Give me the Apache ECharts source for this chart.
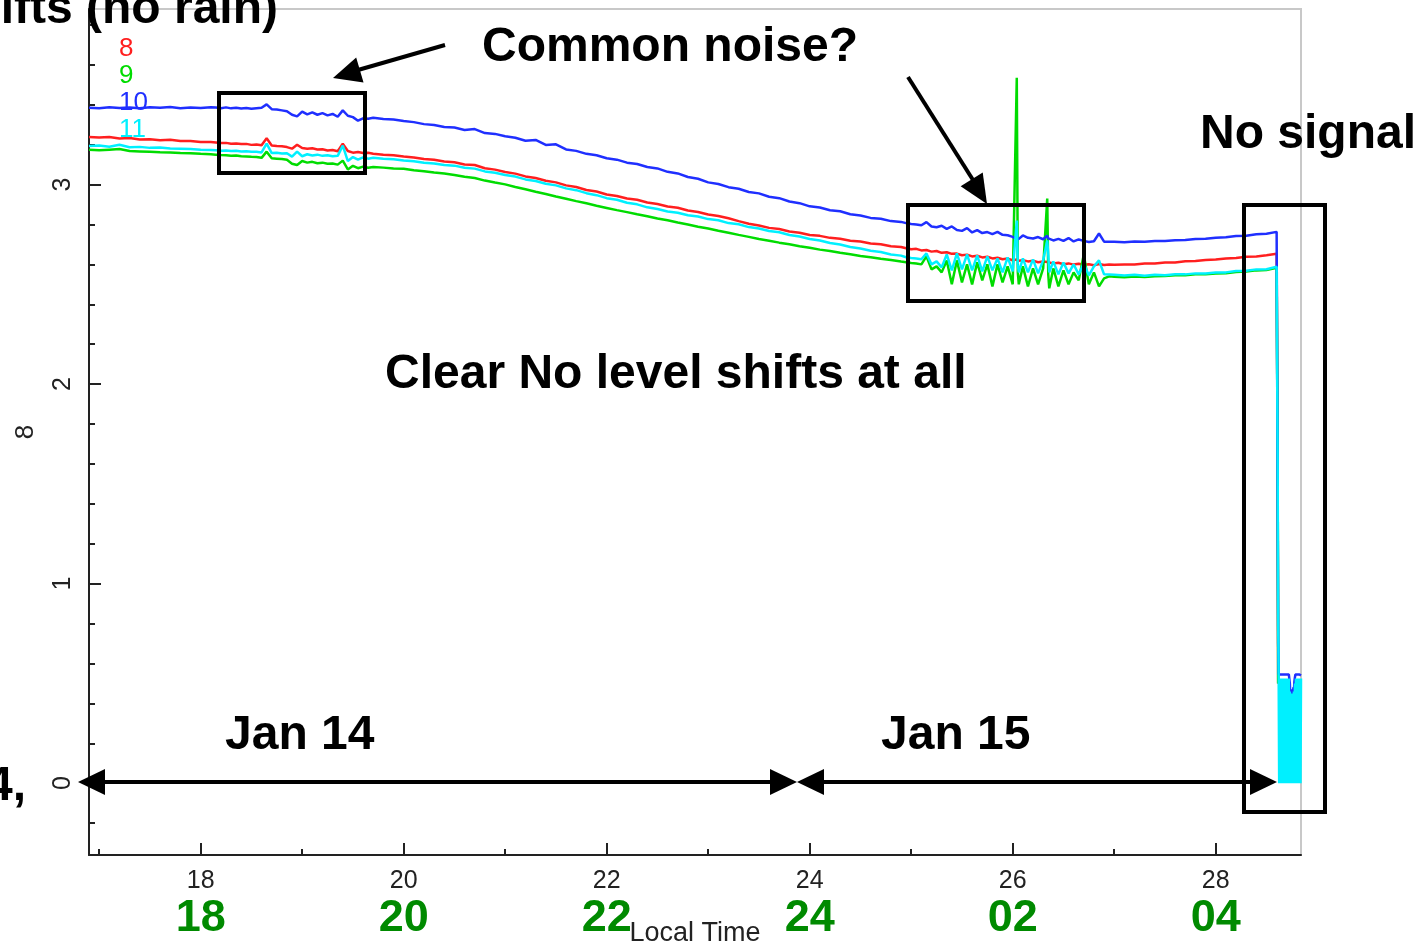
<!DOCTYPE html>
<html>
<head>
<meta charset="utf-8">
<script src="https://cdn.jsdelivr.net/npm/echarts@6/dist/echarts.min.js"></script>
<style>
html,body{margin:0;padding:0;background:#fff;}
#chart{width:1416px;height:945px;}
</style>
</head>
<body>
<div id="chart"></div>
<script>
// ---------------- data ----------------
const channelNames = ['8', '9', '10', '11'];
const xTickLabels = [18, 20, 22, 24, 26, 28];
const xMinorTicks = [17, 19, 21, 23, 25, 27];
const localTimeLabels = ['18', '20', '22', '24', '02', '04'];
const yTickLabels = [0, 1, 2, 3];
const yMinorTicks = [-0.2, 0.2, 0.4, 0.6, 0.8, 1.2, 1.4, 1.6, 1.8, 2.2, 2.4, 2.6, 2.8, 3.2, 3.4, 3.6, 3.8];

const hours = [
  16.9,17.0,17.1,17.2,17.3,17.4,17.5,17.6,17.7,17.8,17.9,18.0,18.1,
  18.15,18.2,18.25,18.3,18.35,18.4,18.45,18.5,18.55,18.6,
  18.65,18.7,18.75,18.8,18.85,18.9,18.95,19.0,19.05,19.1,
  19.15,19.2,19.25,19.3,19.35,19.4,19.45,19.5,19.55,19.6,
  19.65,19.7,
  19.8,19.9,20.0,20.1,20.2,20.3,20.4,20.5,20.6,20.7,
  20.8,20.9,21.0,21.1,21.2,21.3,21.4,21.5,21.6,21.7,
  21.8,21.9,22.0,22.1,22.2,22.3,22.4,22.5,22.6,22.7,
  22.8,22.9,23.0,23.1,23.2,23.3,23.4,23.5,23.6,23.7,
  23.8,23.9,24.0,24.1,24.2,24.3,24.4,24.5,24.6,24.7,
  24.8,24.9,
  24.95,25.0,25.05,25.1,25.15,25.2,25.25,25.3,25.35,25.4,
  25.45,25.5,25.55,25.6,25.65,25.7,25.75,25.8,25.85,25.9,
  25.95,26.0,26.04,26.05,26.06,26.1,26.15,26.2,26.25,26.3,
  26.34,26.35,26.36,26.4,26.45,26.5,26.55,26.6,26.65,26.7,
  26.75,26.8,26.85,26.9,26.95,
  27.0,27.1,27.2,27.3,27.4,27.5,27.6,27.7,27.8,27.9,
  28.0,28.1,28.2,28.3,28.4,28.5,28.6,
  28.61,28.615,
  28.62,28.625,28.63,28.635,28.64,28.645,28.65,28.655,28.66,28.665,
  28.67,28.675,28.68,28.685,28.69,28.695,28.7,28.705,28.71,28.715,
  28.72,28.725,28.73,28.735,28.74,28.745,28.75,28.755,28.76,28.765,
  28.77,28.775,28.78,28.785,28.79,28.795,28.8,28.805,28.81,28.815,
  28.82,28.825,28.83,28.835,28.84
];

const ch8 = [
  3.239,3.236,3.238,3.231,3.233,3.226,3.227,3.222,3.225,3.218,3.219,3.214,3.213,
  3.211,3.208,3.209,3.205,3.206,3.203,3.204,3.199,3.201,3.197,
  3.232,3.196,3.193,3.192,3.188,3.180,3.200,3.183,3.180,3.182,
  3.176,3.177,3.171,3.173,3.167,3.205,3.168,3.160,3.163,3.158,
  3.160,3.155,
  3.150,3.147,3.141,3.136,3.128,3.124,3.116,3.112,3.101,3.098,
  3.082,3.075,3.063,3.055,3.041,3.033,3.019,3.011,2.996,2.988,
  2.973,2.965,2.950,2.943,2.930,2.924,2.910,2.903,2.890,2.884,
  2.870,2.863,2.850,2.843,2.831,2.817,2.804,2.795,2.783,2.777,
  2.765,2.759,2.747,2.743,2.733,2.729,2.719,2.715,2.705,2.701,
  2.691,2.687,
  2.681,2.676,2.678,2.670,2.672,2.664,2.667,2.658,2.661,2.653,
  2.654,2.646,2.649,2.640,2.643,2.635,2.638,2.630,2.633,2.626,
  2.629,2.621,2.625,2.621,2.618,2.621,2.615,2.618,2.611,2.614,
  2.612,2.608,2.609,2.605,2.608,2.601,2.605,2.599,2.603,2.598,
  2.601,2.596,2.602,2.597,2.599,
  2.598,2.600,2.600,2.604,2.604,2.609,2.610,2.616,2.617,2.622,
  2.624,2.630,2.632,2.638,2.640,2.646,2.653,
  1.60,0.50
];

const ch9 = [
  3.174,3.172,3.175,3.178,3.168,3.166,3.164,3.162,3.161,3.158,3.157,3.154,3.152,
  3.150,3.148,3.147,3.145,3.146,3.142,3.141,3.139,3.138,3.134,
  3.165,3.132,3.130,3.128,3.124,3.104,3.098,3.118,3.110,3.114,
  3.107,3.110,3.104,3.106,3.100,3.120,3.076,3.094,3.082,3.090,
  3.084,3.088,
  3.085,3.081,3.079,3.072,3.067,3.060,3.055,3.048,3.039,3.033,
  3.020,3.010,3.001,2.988,2.977,2.964,2.953,2.940,2.929,2.917,
  2.906,2.894,2.883,2.872,2.862,2.851,2.841,2.830,2.821,2.810,
  2.800,2.789,2.780,2.769,2.759,2.748,2.738,2.727,2.719,2.709,
  2.701,2.691,2.683,2.674,2.667,2.658,2.651,2.642,2.636,2.628,
  2.622,2.614,
  2.611,2.607,2.605,2.600,2.640,2.575,2.590,2.560,2.620,2.500,
  2.620,2.510,2.600,2.500,2.610,2.520,2.600,2.490,2.600,2.510,
  2.590,2.500,3.535,2.560,2.500,2.590,2.490,2.580,2.500,2.580,
  2.930,2.550,2.480,2.580,2.490,2.570,2.500,2.560,2.520,2.650,
  2.500,2.560,2.490,2.530,2.540,
  2.538,2.536,2.539,2.537,2.541,2.542,2.546,2.546,2.550,2.550,
  2.554,2.556,2.562,2.564,2.570,2.572,2.583,
  1.60,0.50
];

const ch10 = [
  3.385,3.383,3.388,3.384,3.386,3.382,3.387,3.385,3.389,3.383,3.386,3.384,3.388,
  3.386,3.383,3.387,3.382,3.385,3.381,3.384,3.380,3.383,3.385,
  3.402,3.378,3.376,3.372,3.368,3.350,3.342,3.366,3.352,3.362,
  3.350,3.358,3.347,3.354,3.340,3.372,3.345,3.338,3.320,3.332,
  3.330,3.335,
  3.329,3.326,3.319,3.313,3.303,3.299,3.289,3.286,3.274,3.278,
  3.258,3.254,3.242,3.235,3.220,3.224,3.199,3.202,3.176,3.169,
  3.154,3.147,3.132,3.125,3.110,3.103,3.088,3.081,3.064,3.056,
  3.038,3.029,3.011,3.003,2.987,2.979,2.963,2.956,2.939,2.932,
  2.915,2.907,2.891,2.885,2.871,2.866,2.851,2.845,2.833,2.829,
  2.817,2.813,
  2.807,2.803,2.800,2.796,2.812,2.790,2.786,2.794,2.778,2.790,
  2.772,2.768,2.782,2.760,2.772,2.757,2.762,2.752,2.763,2.748,
  2.746,2.738,2.725,2.735,2.728,2.745,2.733,2.730,2.737,2.726,
  2.744,2.730,2.722,2.720,2.728,2.718,2.732,2.715,2.725,2.718,
  2.712,2.716,2.755,2.714,2.713,
  2.713,2.711,2.715,2.714,2.717,2.717,2.721,2.722,2.727,2.728,
  2.734,2.736,2.742,2.744,2.751,2.754,2.763,
  1.40,0.70,
  0.545,0.538,0.545,0.540,0.545,0.538,0.545,0.540,0.545,0.538,
  0.545,0.540,0.545,0.538,0.545,0.540,0.545,0.538,0.545,0.540,
  0.545,0.538,0.50,0.44,0.47,0.42,0.40,0.45,0.43,0.48,
  0.46,0.51,0.53,0.545,0.540,0.545,0.538,0.545,0.540,0.545,
  0.538,0.545,0.540,0.545,0.540
];

const ch11 = [
  3.194,3.196,3.190,3.200,3.187,3.189,3.184,3.186,3.181,3.180,3.178,3.174,3.173,
  3.172,3.170,3.171,3.168,3.169,3.166,3.167,3.164,3.165,3.161,
  3.205,3.158,3.160,3.156,3.157,3.140,3.165,3.142,3.152,3.146,
  3.150,3.144,3.147,3.142,3.144,3.195,3.118,3.138,3.125,3.136,
  3.130,3.134,
  3.130,3.127,3.121,3.117,3.109,3.106,3.098,3.095,3.084,3.080,
  3.066,3.059,3.048,3.040,3.026,3.018,3.004,2.996,2.981,2.972,
  2.957,2.947,2.932,2.924,2.909,2.901,2.886,2.878,2.865,2.859,
  2.846,2.840,2.827,2.821,2.807,2.801,2.787,2.780,2.767,2.761,
  2.747,2.740,2.727,2.720,2.707,2.700,2.687,2.680,2.668,2.662,
  2.650,2.644,
  2.636,2.632,2.630,2.626,2.655,2.600,2.615,2.585,2.650,2.570,
  2.655,2.575,2.650,2.570,2.645,2.565,2.640,2.570,2.630,2.560,
  2.635,2.565,2.820,2.600,2.560,2.630,2.560,2.625,2.555,2.620,
  2.720,2.650,2.560,2.615,2.550,2.610,2.555,2.600,2.550,2.605,
  2.545,2.590,2.620,2.550,2.549,
  2.548,2.544,2.548,2.543,2.548,2.546,2.551,2.550,2.555,2.554,
  2.559,2.560,2.567,2.568,2.575,2.576,2.588,
  1.60,0.80,
  0.525,0,0.525,0,0.525,0,0.525,0,0.525,0,
  0.525,0,0.525,0,0.525,0,0.525,0,0.525,0,
  0.525,0,0.46,0,0.44,0,0.45,0,0.43,0,
  0.46,0,0.50,0,0.525,0,0.525,0,0.525,0,
  0.525,0,0.525,0,0.525
];

const channelValues = [ch8, ch9, ch10, ch11];
const channelColors = ['#ff1f1f', '#00dc00', '#1f2fff', '#00f0ff'];

// ---------------- chart ----------------
const chart = echarts.init(document.getElementById('chart'), null, {renderer: 'canvas'});
const FONT = '"Liberation Sans", Arial, sans-serif';
const X_MIN = 16.9, X_MAX = 28.84, Y_MIN = -0.36, Y_MAX = 3.88;
const AXIS_COLOR = '#222';

function zip(vals) { return vals.map((v, i) => [hours[i], v]); }

const series = channelNames.map((name, k) => ({
  name: name,
  type: 'line',
  xAxisIndex: 0,
  yAxisIndex: 0,
  data: zip(channelValues[k]),
  showSymbol: false,
  symbol: 'none',
  lineStyle: {color: channelColors[k], width: 2.5},
  itemStyle: {color: channelColors[k]},
  emphasis: {disabled: true},
  animation: false
}));

function arrowHead(tip, dirX, dirY, len, half) {
  const n = Math.hypot(dirX, dirY); const ux = dirX / n, uy = dirY / n;
  const bx = tip[0] - ux * len, by = tip[1] - uy * len;
  return [tip, [bx - uy * half, by + ux * half], [bx + uy * half, by - ux * half]];
}
const blk = {fill: '#000'};
const lineStyleBlk = {stroke: '#000', lineWidth: 4};
function txt(text, x, y, align, size) {
  return {type: 'text', x: x, y: y, z: 200,
    style: {text: text, font: 'bold ' + (size || 48) + 'px ' + FONT, fill: '#000',
      align: align || 'left', verticalAlign: 'middle', textAlign: align || 'left', textVerticalAlign: 'middle'}};
}

const graphics = [
  // boxes
  {type: 'rect', z: 150, shape: {x: 219, y: 93, width: 146, height: 80}, style: {fill: 'none', stroke: '#000', lineWidth: 4}},
  {type: 'rect', z: 150, shape: {x: 908, y: 205, width: 176, height: 96}, style: {fill: 'none', stroke: '#000', lineWidth: 4}},
  {type: 'rect', z: 150, shape: {x: 1244, y: 205, width: 81, height: 607}, style: {fill: 'none', stroke: '#000', lineWidth: 4}},
  // Jan 14 arrow
  {type: 'line', z: 150, shape: {x1: 100, y1: 782, x2: 775, y2: 782}, style: lineStyleBlk},
  {type: 'polygon', z: 150, shape: {points: arrowHead([78, 782], -1, 0, 27, 13)}, style: blk},
  {type: 'polygon', z: 150, shape: {points: arrowHead([797, 782], 1, 0, 27, 13)}, style: blk},
  // Jan 15 arrow
  {type: 'line', z: 150, shape: {x1: 820, y1: 782, x2: 1255, y2: 782}, style: lineStyleBlk},
  {type: 'polygon', z: 150, shape: {points: arrowHead([797, 782], -1, 0, 27, 13)}, style: blk},
  {type: 'polygon', z: 150, shape: {points: arrowHead([1277, 782], 1, 0, 27, 13)}, style: blk},
  // common noise arrows
  {type: 'line', z: 150, shape: {x1: 445, y1: 45, x2: 358, y2: 70}, style: lineStyleBlk},
  {type: 'polygon', z: 150, shape: {points: arrowHead([333, 78], -112, 33, 28, 13)}, style: blk},
  {type: 'line', z: 150, shape: {x1: 908, y1: 77, x2: 973, y2: 180}, style: lineStyleBlk},
  {type: 'polygon', z: 150, shape: {points: arrowHead([987, 204], 79, 127, 29, 13)}, style: blk},
  // texts
  txt('Level shifts (no rain)', 278, 10, 'right'),
  txt('Common noise?', 482, 48),
  txt('No signal', 1200, 135),
  txt('Clear No level shifts at all', 385, 375),
  txt('Jan 14', 225, 736),
  txt('Jan 15', 881, 736),
  txt('Jan 14,', 26, 787, 'right')
];

const option = {
  backgroundColor: '#fff',
  animation: false,
  textStyle: {fontFamily: FONT},
  grid: {left: 89, right: 115, top: 9, bottom: 90, show: true, borderColor: '#c8c8c8', borderWidth: 2,
    containLabel: false, outerBoundsMode: 'none'},
  legend: {
    orient: 'vertical', left: 108, top: 31, icon: 'none', itemWidth: 1, itemHeight: 10, itemGap: 1,
    selectedMode: false,
    textStyle: {fontSize: 26, fontFamily: FONT, lineHeight: 26, padding: 0},
    data: channelNames.map((n, k) => ({name: n, textStyle: {color: channelColors[k]}}))
  },
  xAxis: [
    {type: 'value', gridIndex: 0, position: 'bottom', min: X_MIN, max: X_MAX,
      name: 'Local Time', nameLocation: 'middle', nameGap: 65,
      nameTextStyle: {fontSize: 27, color: AXIS_COLOR, fontFamily: FONT},
      axisLine: {show: true, onZero: false, lineStyle: {color: AXIS_COLOR, width: 2}},
      axisTick: {show: true, inside: true, length: 12, customValues: xTickLabels, lineStyle: {color: AXIS_COLOR, width: 2}},
      axisLabel: {show: true, customValues: xTickLabels, fontSize: 25, color: AXIS_COLOR, margin: 14, fontFamily: FONT},
      splitLine: {show: false}},
    {type: 'value', gridIndex: 0, position: 'bottom', min: X_MIN, max: X_MAX,
      axisLine: {show: false, onZero: false},
      axisTick: {show: true, inside: true, length: 6, customValues: xMinorTicks, lineStyle: {color: AXIS_COLOR, width: 2}},
      axisLabel: {show: false}, splitLine: {show: false}},
    {type: 'value', gridIndex: 0, position: 'bottom', min: X_MIN, max: X_MAX,
      axisLine: {show: false, onZero: false}, axisTick: {show: false},
      axisLabel: {show: true, customValues: xTickLabels, margin: 41,
        fontSize: 45, fontWeight: 'bold', color: '#008a00', fontFamily: FONT,
        formatter: v => localTimeLabels[xTickLabels.indexOf(Math.round(v))] || ''},
      splitLine: {show: false}}
  ],
  yAxis: [
    {type: 'value', gridIndex: 0, position: 'left', min: Y_MIN, max: Y_MAX,
      name: '8', nameLocation: 'middle', nameGap: 50, nameRotate: 90,
      nameTextStyle: {fontSize: 26, color: AXIS_COLOR, fontFamily: FONT},
      axisLine: {show: true, onZero: false, lineStyle: {color: AXIS_COLOR, width: 2}},
      axisTick: {show: true, inside: true, length: 12, customValues: yTickLabels, lineStyle: {color: AXIS_COLOR, width: 2}},
      axisLabel: {show: true, customValues: yTickLabels, rotate: 90, fontSize: 25, color: AXIS_COLOR, margin: 13, fontFamily: FONT},
      splitLine: {show: false}},
    {type: 'value', gridIndex: 0, position: 'left', min: Y_MIN, max: Y_MAX,
      axisLine: {show: false, onZero: false},
      axisTick: {show: true, inside: true, length: 6, customValues: yMinorTicks, lineStyle: {color: AXIS_COLOR, width: 2}},
      axisLabel: {show: false}, splitLine: {show: false}}
  ],
  series: series,
  graphic: {elements: graphics}
};
chart.setOption(option);
</script>
</body>
</html>
